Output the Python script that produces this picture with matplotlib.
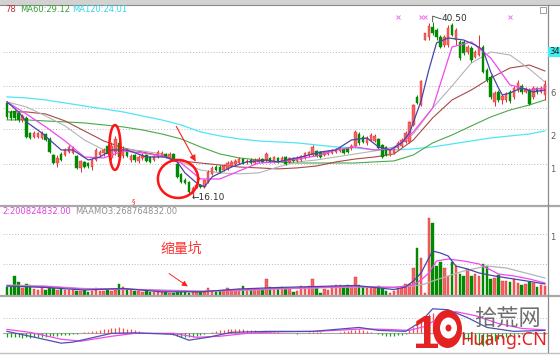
import numpy as np
import matplotlib.pyplot as plt
from matplotlib.patches import Ellipse, Rectangle
from matplotlib.lines import Line2D
from matplotlib.ticker import NullLocator
import matplotlib.transforms as mtrans

plt.rcParams['font.family'] = ['DejaVu Sans']

# ---- daily candles (price) ----
opens = [
    26.41, 25.19, 25.32, 25.05, 24.15, 24.41, 22.55, 22.08, 22.08, 21.96,
    22.43, 21.85, 20.08, 19.25, 20.19, 20.08, 20.40, 20.30, 19.98, 18.76,
    19.36, 19.25, 18.85, 19.56, 20.08, 20.30, 21.06, 19.77, 20.40, 21.40,
    19.98, 20.62, 19.56, 20.08, 19.46, 19.77, 20.08, 19.87, 19.56, 19.87,
    19.98, 20.19, 19.77, 20.19, 19.15, 18.18, 17.61, 17.43, 16.36, 16.97,
    17.15, 16.97, 17.43, 18.18, 18.85, 18.85, 18.56, 18.66, 18.95, 19.15,
    19.25, 19.66, 19.36, 19.56, 19.25, 19.36, 19.66, 19.56, 19.77, 19.36,
    19.77, 19.46, 19.87, 19.36, 19.77, 19.46, 19.56, 19.77, 20.08, 20.08,
    20.51, 20.40, 20.08, 20.19, 20.30, 20.40, 20.51, 20.73, 20.84, 20.84,
    21.06, 22.43, 22.08, 21.40, 21.73, 21.62, 21.85, 21.17, 20.95, 20.08,
    20.30, 20.84, 21.06, 21.51, 21.51, 23.52, 27.26, 26.13, 36.79, 37.37,
    39.39, 38.77, 37.37, 35.83, 35.83, 39.81, 36.79, 36.41, 36.41, 34.53,
    35.27, 33.64, 33.99, 35.46, 31.41, 30.28, 26.55, 27.98, 26.83, 26.83,
    27.98, 27.26, 28.28, 28.88, 27.98, 28.28, 27.26, 28.58, 27.98, 27.54,
]
closes = [
    24.53, 24.41, 24.41, 24.15, 24.66, 22.08, 21.96, 22.55, 22.55, 22.55,
    21.73, 20.40, 19.25, 19.77, 19.56, 20.62, 20.95, 20.84, 18.76, 19.46,
    18.85, 18.95, 19.56, 20.62, 20.40, 20.62, 20.19, 21.06, 21.85, 19.87,
    20.62, 19.98, 19.98, 19.56, 19.87, 20.08, 19.46, 19.36, 19.98, 20.40,
    20.30, 19.87, 20.19, 19.56, 17.89, 17.43, 17.33, 16.53, 16.88, 17.15,
    16.97, 17.61, 18.37, 18.76, 18.56, 18.37, 18.95, 19.25, 19.36, 19.46,
    19.66, 19.25, 19.46, 19.25, 19.56, 19.66, 19.36, 20.19, 19.36, 19.87,
    19.36, 19.77, 19.15, 19.77, 19.46, 19.77, 19.98, 20.30, 20.40, 20.95,
    19.98, 19.87, 20.40, 20.51, 20.62, 20.73, 20.84, 20.30, 20.40, 21.06,
    22.67, 21.40, 21.51, 21.96, 22.31, 22.20, 20.84, 19.87, 20.08, 20.62,
    20.73, 21.40, 21.73, 22.55, 23.90, 26.13, 26.41, 29.65, 38.17, 39.60,
    38.17, 37.37, 35.46, 37.37, 39.18, 37.77, 38.77, 33.46, 34.35, 35.46,
    33.11, 34.53, 35.46, 31.09, 29.80, 27.26, 27.84, 26.83, 27.40, 27.69,
    26.69, 28.58, 29.34, 27.98, 28.43, 26.27, 28.58, 27.98, 28.58, 29.18,
]
highs = [
    26.69, 25.45, 25.45, 25.32, 24.92, 24.66, 22.67, 22.79, 22.67, 22.79,
    22.55, 22.08, 20.19, 20.08, 20.40, 20.84, 21.17, 21.06, 20.08, 19.56,
    19.46, 19.36, 19.77, 20.84, 20.62, 20.84, 21.28, 21.51, 22.20, 21.73,
    21.06, 20.73, 20.19, 20.19, 20.08, 20.30, 20.19, 19.98, 20.08, 20.62,
    20.51, 20.30, 20.40, 20.30, 19.25, 18.27, 17.80, 17.52, 17.06, 17.33,
    17.24, 17.70, 18.56, 18.95, 19.05, 19.05, 19.15, 19.46, 19.56, 19.66,
    19.87, 19.77, 19.66, 19.77, 19.77, 19.87, 19.77, 20.40, 19.87, 19.98,
    19.87, 19.98, 19.98, 19.87, 19.87, 19.98, 20.08, 20.40, 20.51, 21.17,
    20.62, 20.51, 20.51, 20.62, 20.73, 20.84, 20.95, 20.84, 20.95, 21.28,
    22.91, 22.67, 22.31, 22.20, 22.55, 22.43, 21.96, 21.28, 21.06, 20.73,
    20.95, 21.62, 21.96, 22.79, 24.02, 26.27, 27.54, 29.80, 38.17, 40.23,
    40.50, 39.18, 37.77, 37.77, 39.81, 40.23, 39.18, 36.79, 36.79, 35.83,
    35.64, 34.90, 37.77, 35.83, 31.75, 30.60, 28.13, 28.28, 27.69, 27.98,
    28.28, 28.88, 29.80, 29.18, 28.73, 28.58, 28.88, 28.73, 28.88, 29.80,
]
lows = [
    24.28, 24.15, 24.15, 23.90, 23.90, 21.96, 21.85, 21.96, 21.96, 21.85,
    21.62, 20.30, 19.15, 18.85, 19.46, 19.98, 20.30, 20.19, 18.66, 18.37,
    18.76, 18.76, 18.56, 19.46, 19.87, 19.98, 20.08, 19.56, 20.08, 19.46,
    19.77, 19.87, 19.36, 19.36, 19.25, 19.56, 19.36, 19.25, 19.46, 19.77,
    19.87, 19.77, 19.66, 19.46, 17.80, 17.33, 17.24, 16.44, 16.10, 16.88,
    16.88, 16.88, 17.33, 18.08, 18.46, 18.27, 18.46, 18.56, 18.85, 19.05,
    19.15, 19.15, 19.15, 19.15, 19.15, 19.25, 19.25, 19.36, 19.25, 19.25,
    19.25, 19.36, 19.05, 19.25, 19.36, 19.36, 19.46, 19.66, 19.87, 19.98,
    19.87, 19.77, 19.98, 20.08, 20.19, 20.30, 20.40, 20.19, 20.30, 20.62,
    20.95, 21.17, 21.40, 21.17, 21.62, 21.51, 20.73, 19.77, 19.98, 19.98,
    20.19, 20.73, 20.95, 21.40, 21.40, 23.40, 26.27, 26.00, 36.79, 36.79,
    37.77, 36.79, 35.27, 35.46, 35.46, 37.57, 35.83, 33.11, 33.99, 34.17,
    32.77, 33.46, 33.81, 30.92, 29.49, 26.97, 26.00, 26.55, 26.27, 26.55,
    26.41, 26.97, 27.98, 27.69, 27.84, 26.13, 26.97, 27.69, 27.84, 26.83,
]

# ---- moving averages ----
ma_idx = [0, 5, 10, 15, 20, 25, 30, 35, 40, 45, 50, 55, 60, 65, 70, 75, 80,
          85, 90, 95, 100, 105, 110, 115, 120, 125, 130, 135, 139]
ma120 = [27.26, 27.12, 26.83, 26.41, 25.99, 25.59, 25.19, 24.66, 24.15, 23.52,
         22.67, 22.20, 21.85, 21.62, 21.51, 21.40, 21.17, 20.95, 20.84, 20.62,
         20.62, 20.73, 20.95, 21.28, 21.62, 21.96, 22.20, 22.43, 22.79]
ma60 = [24.15, 24.15, 24.02, 23.90, 23.77, 23.52, 23.28, 22.91, 22.43, 21.85,
        20.95, 20.19, 19.77, 19.56, 19.36, 19.25, 19.25, 19.25, 19.25, 19.36,
        19.46, 20.08, 21.40, 22.31, 23.40, 24.53, 25.45, 26.13, 26.83]
ma30 = [25.19, 25.19, 24.92, 24.02, 22.79, 21.62, 20.84, 20.40, 19.98, 19.46,
        19.25, 19.05, 18.85, 18.76, 18.66, 18.76, 18.95, 19.36, 19.66, 19.87,
        20.19, 21.73, 24.41, 26.83, 28.28, 30.12, 31.75, 32.25, 31.25]
ma20 = [26.55, 25.86, 24.66, 23.40, 21.73, 20.62, 20.73, 20.51, 20.19, 19.36,
        18.56, 18.27, 18.18, 18.27, 18.85, 19.36, 19.56, 19.87, 20.19, 20.51,
        20.95, 22.43, 25.72, 28.88, 32.59, 34.54, 33.99, 31.58, 29.49]
ma10 = [26.55, 24.92, 23.28, 21.62, 19.87, 19.77, 20.51, 20.30, 19.98, 19.25,
        17.70, 17.70, 18.46, 19.25, 19.36, 19.66, 19.98, 20.62, 20.95, 20.62,
        20.73, 22.67, 25.72, 35.46, 36.41, 33.46, 29.03, 28.28, 28.58]
ma5_idx = [0, 3, 5, 9, 14, 17, 21, 24, 27, 31, 36, 41, 44, 46, 49, 51, 53, 58,
           62, 67, 70, 76, 81, 85, 89, 93, 96, 99, 102, 104, 107, 109, 111, 114,
           118, 121, 123, 125, 127, 128, 130, 133, 136, 139]
ma5 = [26.55, 25.19, 23.90, 22.55, 20.62, 20.62, 19.56, 19.87, 20.62, 20.62,
       19.87, 19.87, 19.36, 18.27, 17.33, 16.97, 17.89, 18.85, 19.36, 19.56,
       19.36, 19.87, 20.40, 20.62, 21.73, 21.96, 20.95, 20.62, 21.40, 22.55,
       26.69, 31.41, 36.22, 37.18, 36.79, 35.83, 34.90, 31.09, 28.58, 27.54,
       27.84, 28.58, 27.98, 28.28]

grid_levels = [34.53, 28.88, 25.72, 23.03, 19.15]
right_labels = ['34', '6', '2', '1']

# ---- volume (million shares) ----
volumes = [
    93, 93, 200, 140, 83, 117, 107, 73, 57, 100,
    57, 93, 83, 57, 73, 57, 57, 60, 47, 50,
    60, 40, 50, 80, 50, 50, 57, 50, 60, 117,
    93, 73, 57, 50, 50, 40, 47, 43, 43, 43,
    37, 37, 33, 33, 37, 37, 37, 33, 40, 43,
    50, 43, 83, 50, 43, 50, 57, 83, 60, 57,
    70, 100, 73, 57, 60, 73, 57, 167, 93, 83,
    73, 93, 83, 67, 43, 50, 100, 93, 100, 167,
    83, 33, 73, 60, 100, 107, 107, 100, 107, 93,
    193, 107, 93, 83, 83, 93, 100, 83, 50, 33,
    50, 83, 83, 117, 117, 283, 483, 383, 27, 783,
    727, 300, 340, 283, 200, 340, 300, 217, 200, 267,
    200, 217, 200, 317, 300, 167, 183, 207, 150, 150,
    140, 167, 127, 107, 117, 140, 127, 93, 107, 100,
]
vma1_idx = [0, 10, 20, 30, 40, 50, 60, 70, 80, 90, 100, 103, 105, 107, 109, 110,
            112, 114, 116, 119, 122, 126, 131, 136, 139]
vma1 = [100, 85, 60, 75, 42, 42, 70, 85, 95, 105, 65, 90, 150, 230, 380, 450,
        430, 400, 300, 270, 230, 200, 170, 140, 120]
vma2_idx = [0, 10, 20, 30, 40, 50, 60, 70, 80, 90, 100, 105, 107, 109, 111, 114,
            118, 122, 127, 131, 135, 139]
vma2 = [100, 95, 70, 70, 55, 45, 60, 75, 85, 95, 85, 110, 160, 230, 350, 370,
        350, 320, 220, 200, 170, 130]
vma3_idx = [0, 10, 20, 30, 40, 50, 60, 70, 80, 90, 100, 105, 108, 110, 114, 118,
            124, 129, 134, 139]
vma3 = [110, 100, 75, 70, 60, 50, 55, 70, 80, 90, 90, 100, 120, 150, 200, 250,
        300, 280, 230, 180]

# ---- MACD ----
dif_idx = [0, 6, 14, 17, 27, 33, 43, 47, 52, 58, 67, 79, 91, 96, 103, 107, 110,
           114, 119, 124, 131, 139]
dif = [0.2, -0.3, -1.0, -0.9, 0.0, 0.05, -0.1, -0.7, -0.4, 0.1, 0.2, 0.2, 0.6,
       0.3, 0.2, 1.2, 2.5, 2.4, 1.6, 0.6, 0.2, 0.3]
dea_idx = [0, 6, 14, 19, 27, 33, 43, 49, 55, 62, 70, 80, 92, 98, 104, 108, 112,
           116, 121, 127, 133, 139]
dea = [0.4, 0.1, -0.6, -0.8, -0.3, 0.0, 0.0, -0.4, -0.3, 0.0, 0.15, 0.2, 0.45,
       0.4, 0.3, 0.7, 1.7, 2.2, 1.8, 1.0, 0.5, 0.35]
macd_hist = [
    -0.35, -0.40, -0.42, -0.40, -0.45, -0.40, -0.45, -0.42, -0.40, -0.38,
    -0.35, -0.32, -0.30, -0.25, -0.22,
    -0.18, -0.12, -0.08, -0.02, 0.04, 0.10, 0.15, 0.22, 0.28, 0.33,
    0.40, 0.45, 0.50, 0.58, 0.60, 0.55, 0.48, 0.40, 0.30,
    0.20, 0.14, 0.08, 0.05, 0.03, 0.02, 0.01, -0.03, -0.08,
    -0.18, -0.28, -0.35, -0.40, -0.42, -0.38, -0.30, -0.20,
    -0.10, 0.02, 0.12,
    0.25, 0.32, 0.38, 0.42, 0.45, 0.45, 0.42, 0.40, 0.36, 0.32, 0.30, 0.26,
    0.22, 0.25, 0.20, 0.15, 0.12,
    0.08, 0.05, 0.02, 0.00, -0.02, 0.03, 0.06, 0.10, 0.18, 0.14, 0.10, 0.08,
    0.05, 0.04, 0.08, 0.12, 0.20, 0.25,
    0.30, 0.38, 0.40, 0.35, 0.28, 0.18, 0.08,
    -0.05, -0.15, -0.25, -0.30, -0.28, -0.22, -0.12, -0.02,
    0.30, 0.60, 1.00, 1.40, 1.80, 2.00, 2.10, 1.80, 1.50, 1.00, 0.60, 0.30, 0.10,
    -0.30, -0.60, -0.80, -1.00, -1.10, -1.20, -1.30, -1.20, -1.00, -0.80, -0.60,
    -0.50, -0.40, -0.30, -0.20, -0.10, -0.05, 0.00, 0.05, -0.05, 0.00, 0.05, -0.05,
]

o = np.array(opens)
c = np.array(closes)
h = np.array(highs)
l = np.array(lows)
idx = np.arange(len(c))
up = c >= o

RED = '#f46464'
RED_EDGE = '#e52b2b'
GREEN = '#008a00'

W, H = 560, 359
fig = plt.figure(figsize=(W / 100, H / 100), dpi=100)
fig.patch.set_facecolor('white')


def box(x0, y0, x1, y1):
    return [x0 / W, 1 - y1 / H, (x1 - x0) / W, (y1 - y0) / H]


def ftext(x, y, s, **kw):
    fig.text(x / W, 1 - y / H, s, **kw)


ax_p = fig.add_axes(box(3, 5, 548, 206))
ax_v = fig.add_axes(box(3, 206, 548, 296))
ax_m = fig.add_axes(box(3, 296, 548, 352))
for ax in (ax_p, ax_v, ax_m):
    ax.set_xlim(-1.03, 139.8)
    for s in ax.spines.values():
        s.set_visible(False)
    ax.set_xticks([])
    ax.set_facecolor('none')

# price panel
ax_p.set_yscale('log')
ax_p.set_ylim(15.35, 44.23)
ax_p.yaxis.set_major_locator(NullLocator())
ax_p.yaxis.set_minor_locator(NullLocator())
for g in grid_levels:
    ax_p.axhline(g, color='#b8b8b8', lw=0.7, ls=(0, (1, 2)), zorder=0)

ax_p.plot(ma_idx, ma120, color='#4ee6f6', lw=0.9, zorder=2)
ax_p.plot(ma_idx, ma60, color='#4aa84a', lw=0.8, zorder=2)
ax_p.plot(ma_idx, ma30, color='#a84848', lw=0.8, zorder=2)
ax_p.plot(ma_idx, ma20, color='#b4b4b4', lw=0.8, zorder=2)

ax_p.vlines(idx, l, h, colors=np.where(up, RED_EDGE, GREEN), lw=0.7, zorder=3)
ax_p.bar(idx, np.maximum(np.abs(c - o), 0.03), bottom=np.minimum(o, c), width=0.64,
         color=np.where(up, RED, GREEN), edgecolor=np.where(up, RED_EDGE, GREEN),
         lw=0.3, zorder=4)

ax_p.plot(ma_idx, ma10, color='#f048f0', lw=0.9, zorder=5)
ax_p.plot(ma5_idx, ma5, color='#4646a8', lw=0.9, zorder=6)

# high / low marks
hi_i = int(np.argmax(h))
lo_i = int(np.argmin(l))
ax_p.plot([hi_i, hi_i, hi_i + 2.2], [h[hi_i], h[hi_i] * 1.03, h[hi_i] * 1.015],
          color='#404040', lw=0.6, zorder=7)
ax_p.text(hi_i + 2.4, h[hi_i] * 1.015, f'{h[hi_i]:.2f}', fontsize=6.5,
          color='#333333', va='center', ha='left')
ax_p.text(lo_i - 0.4, l[lo_i] * 0.995, f'\u2190{l[lo_i]:.2f}', fontsize=6.5,
          color='#333333', va='center', ha='left')

# hand drawn marks
t = np.linspace(0, 2 * np.pi, 120)
ax_p.plot(27.9 + 1.45 * np.cos(t), 20.89 * np.exp(0.118 * np.sin(t)),
          color='#ff1414', lw=1.8, zorder=8)
ax_p.plot(44.2 + 5.2 * np.cos(t), 17.70 * np.exp(0.10 * np.sin(t)),
          color='#ff1414', lw=1.8, zorder=8)
ax_p.annotate('', xy=(49.1, 19.15), xytext=(43.4, 23.65),
              arrowprops=dict(arrowstyle='-|>', color='#ff2020', lw=0.8,
                              mutation_scale=9), zorder=8)
ax_p.text(32.8, 15.75, '\u00a7', fontsize=5, color='#ff2020', ha='center', va='center')
blend = mtrans.blended_transform_factory(ax_p.transData, ax_p.transAxes)
ax_p.plot([101, 107, 108, 130], [0.94] * 4, ls='none', marker='x', ms=2.2,
          mew=0.7, color='#f070f0', transform=blend)

# volume panel
ax_v.set_ylim(0, 900)
ax_v.set_yticks([])
for g in (320, 620):
    ax_v.axhline(g, color='#b8b8b8', lw=0.7, ls=(0, (1, 2)), zorder=0)
ax_v.bar(idx, volumes, width=0.64, color=np.where(up, RED, GREEN),
         edgecolor=np.where(up, RED_EDGE, GREEN), lw=0.3, zorder=3)
ax_v.plot(vma3_idx, vma3, color='#b4b4b4', lw=0.9, zorder=4)
ax_v.plot(vma2_idx, vma2, color='#f048f0', lw=0.9, zorder=5)
ax_v.plot(vma1_idx, vma1, color='#4646a8', lw=0.9, zorder=6)
ax_v.text(45, 470, '缩量坑', fontsize=10, color='#ff3030', ha='center', va='center',
          family=['Noto Sans CJK SC', 'DejaVu Sans'])
ax_v.annotate('', xy=(47.3, 80), xytext=(41.3, 240),
              arrowprops=dict(arrowstyle='-|>', color='#ff2020', lw=0.7,
                              mutation_scale=8))

# MACD panel
ax_m.set_ylim(-1.9, 3.8)
ax_m.set_yticks([])
ax_m.axhline(0, color='#a8a8a8', lw=0.8, zorder=0)
ax_m.axhline(1.6, color='#b8b8b8', lw=0.7, ls=(0, (1, 2)), zorder=0)
hist = np.array(macd_hist)
ax_m.vlines(idx, 0, hist, colors=np.where(hist >= 0, '#ff4a4a', '#10a010'), lw=0.9)
ax_m.plot(dea_idx, dea, color='#f048f0', lw=0.9)
ax_m.plot(dif_idx, dif, color='#5050b0', lw=0.9)

# frame lines
fig.add_artist(Rectangle((0, 1 - 5 / H), 1, 5 / H, transform=fig.transFigure,
                         facecolor='#d2d2d2', edgecolor='none'))
fig.add_artist(Line2D([0, 1], [1 - 4.5 / H] * 2, color='#8a8a8a', lw=0.8))
for yy in (206, 296):
    fig.add_artist(Line2D([0, 1], [1 - yy / H] * 2, color='#a8a8a8', lw=1.6))
fig.add_artist(Line2D([0, 1], [1 - 352.5 / H] * 2, color='#c0c0c0', lw=1.0))
fig.add_artist(Line2D([548 / W] * 2, [1 - 352 / H, 1 - 5 / H], color='#8c8c8c', lw=0.9))
fig.add_artist(Rectangle((540 / W, 1 - 13 / H), 6 / W, 6 / H, transform=fig.transFigure,
                         facecolor='none', edgecolor='#909090', lw=0.6))

# legends
ftext(5, 10, '78', fontsize=6, color='#b83030', va='center')
ftext(20, 10, 'MA60:29.12', fontsize=6, color='#34a034', va='center')
ftext(72, 10, 'MA120:24.01', fontsize=6, color='#30d8e8', va='center')
ftext(2, 211, '2:200824832.00', fontsize=6, color='#e040e0', va='center')
ftext(75, 211, 'MAAMO3:268764832.00', fontsize=6, color='#909090', va='center')

# right axis strip
ftext(549, 52, right_labels[0], fontsize=6, color='#202020', va='center',
      bbox=dict(facecolor='#3ef0f0', edgecolor='none', pad=0.6))
for lab, yy in zip(right_labels[1:], (93, 136, 170)):
    ftext(550, yy, lab, fontsize=6, color='#606060', va='center')
ftext(550, 237, '1', fontsize=6, color='#606060', va='center')

# watermark
ftext(426, 348, '1', fontsize=34, color='#e42222', weight='bold', ha='center',
      va='baseline', family='Liberation Sans')
fig.add_artist(Ellipse((447.5 / W, 1 - 329 / H), 29 / W, 38 / H, transform=fig.transFigure,
                       facecolor='#e42222', edgecolor='none'))
fig.add_artist(Ellipse((448.5 / W, 1 - 328 / H), 17 / W, 21 / H, transform=fig.transFigure,
                       facecolor='white', edgecolor='none'))
fig.add_artist(Ellipse((448.5 / W, 1 - 328 / H), 6 / W, 7 / H, transform=fig.transFigure,
                       facecolor='#e42222', edgecolor='none'))
ftext(507, 319, '拾荒网', fontsize=16, color='#6e6e6e', ha='center', va='center',
      family=['Noto Sans CJK SC', 'DejaVu Sans'])
ftext(504, 340, 'Huang:CN', fontsize=13, color='#e42222', ha='center', va='center',
      family='Noto Sans')

fig.savefig('out.png', dpi=100)
